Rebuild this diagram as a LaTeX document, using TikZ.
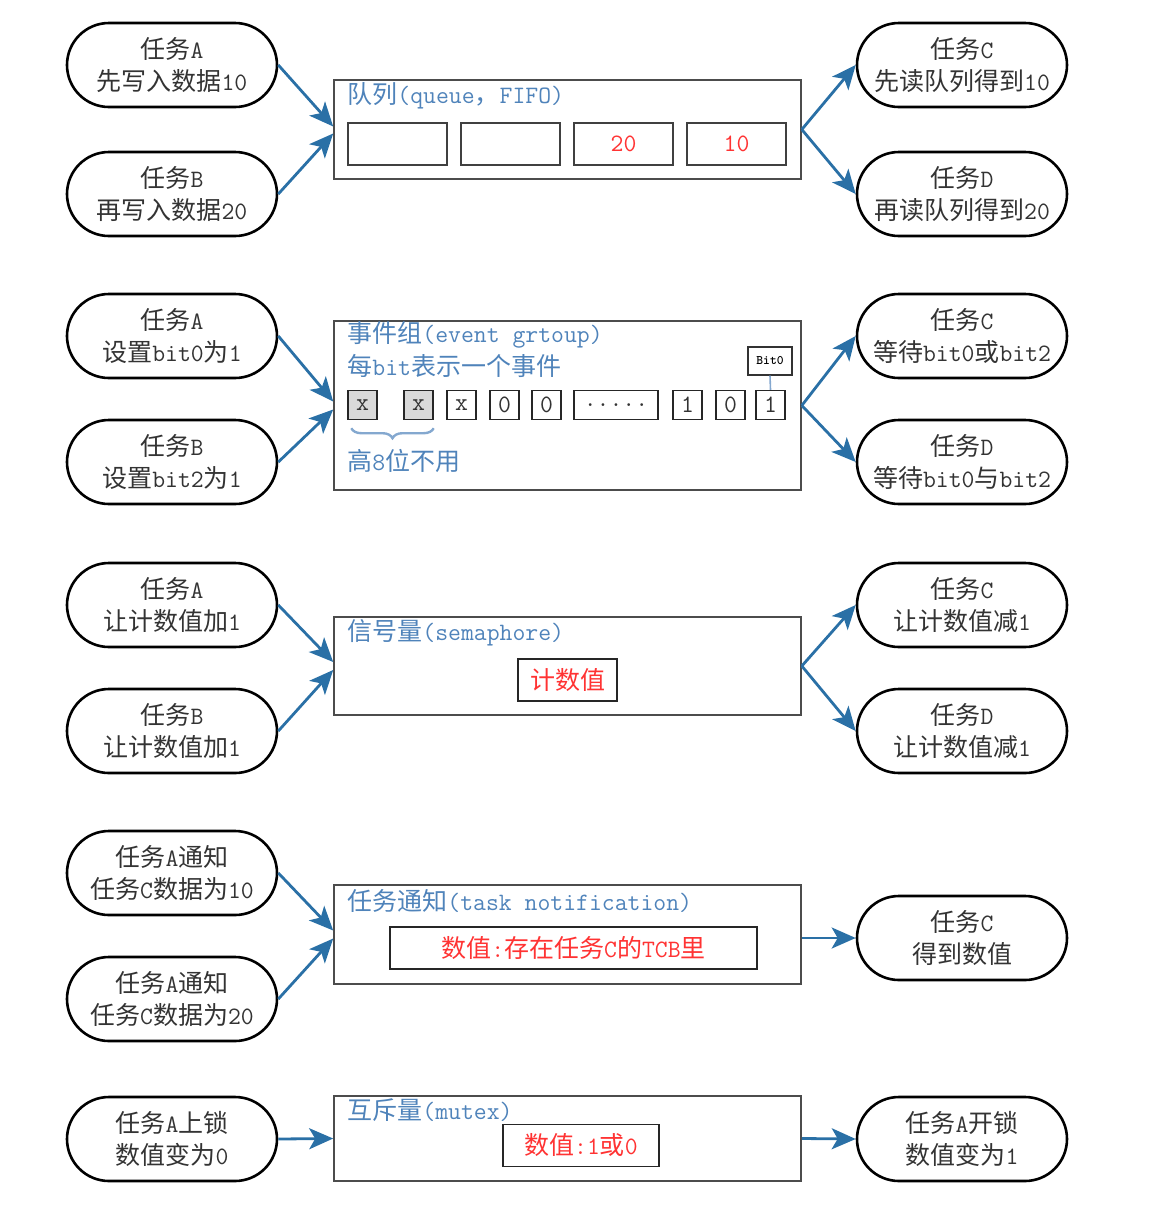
\documentclass[tikz,border=0pt]{standalone}
\usepackage{fontspec}
\newfontfamily\cjk{Noto Sans CJK SC}
\usetikzlibrary{arrows.meta,decorations.pathreplacing}

\definecolor{flowblue}{RGB}{42,112,166}
\definecolor{titleblue}{RGB}{79,131,186}
\definecolor{valred}{RGB}{255,51,51}
\newcommand\zhs[1]{{\cjk #1}}

\begin{document}
\begin{tikzpicture}[
    x=0.5pt, y=-0.5pt,
    font=\fontsize{12.5}{16}\selectfont\ttfamily,
    task/.style={rectangle, rounded corners=21pt, draw=black, line width=1.3pt, minimum width=105pt, minimum height=42pt, align=center, text=black!80, inner sep=1pt},
    ipcbox/.style={rectangle, draw=black!70, line width=0.8pt, minimum width=233.5pt, inner sep=0pt},
    title/.style={anchor=west, text=titleblue, inner sep=0pt},
    cell/.style={rectangle, draw=black!75, line width=0.7pt, minimum width=49.5pt, minimum height=21pt, text=valred},
    bitcell/.style={rectangle, draw=black!85, line width=0.7pt, minimum width=14.5pt, minimum height=14.5pt, inner sep=0pt, text=black!80},
    unused/.style={bitcell, fill=black!15},
    valbox/.style={rectangle, draw=black!85, line width=0.7pt, minimum height=21pt, text=valred},
    flow/.style={draw=flowblue, line width=1.4pt, -{Stealth[length=12pt,width=10.5pt,inset=3pt]}}
]
\useasboundingbox (0,0) rectangle (1164,1217);

% 队列
\node[task] (qA) at (172,65) {\zhs{任务}A\\\zhs{先写入数据}10};
\node[task] (qB) at (172,194) {\zhs{任务}B\\\zhs{再写入数据}20};
\node[task] (qC) at (962,65) {\zhs{任务}C\\\zhs{先读队列得到}10};
\node[task] (qD) at (962,194) {\zhs{任务}D\\\zhs{再读队列得到}20};
\node[ipcbox, minimum height=49.5pt] (qBox) at (567.5,129.5) {};
\node[title] (qTitle) at (347,96) {\zhs{队列}(queue\zhs{，}FIFO)};
\foreach \i/\x/\v in {1/397.5/{}, 2/510.5/{}, 3/623.5/20, 4/736.5/10}
    \node[cell] (q\i) at (\x,144) {\v};
\draw[flow] (qA.east) -- ([yshift=1.5pt]qBox.west);
\draw[flow] (qB.east) -- ([yshift=-2pt]qBox.west);
\draw[flow] (qBox.east) -- (qC.west);
\draw[flow] (qBox.east) -- (qD.west);

% 事件组
\node[task] (eA) at (172,336) {\zhs{任务}A\\\zhs{设置}bit0\zhs{为}1};
\node[task] (eB) at (172,462) {\zhs{任务}B\\\zhs{设置}bit2\zhs{为}1};
\node[task] (eC) at (962,336) {\zhs{任务}C\\\zhs{等待}bit0\zhs{或}bit2};
\node[task] (eD) at (962,462) {\zhs{任务}D\\\zhs{等待}bit0\zhs{与}bit2};
\node[ipcbox, minimum height=84.5pt] (eBox) at (567.5,405.5) {};
\node[title] (eTitle) at (347,335) {\zhs{事件组}(event grtoup)};
\node[title] (eSub) at (347,366) {\zhs{每}bit\zhs{表示一个事件}};
\node[unused] (e1) at (362.5,405) {x};
\node[unused] (e2) at (418.5,405) {x};
\foreach \i/\x/\v in {3/461.5/x, 4/504.5/0, 5/546.5/0, 7/687.5/1, 8/730.5/0, 9/770.5/1}
    \node[bitcell] (e\i) at (\x,405) {\v};
\node[bitcell, minimum width=42pt] (e6) at (616,405) {.....};
\node[rectangle, draw=black!80, line width=0.6pt, minimum width=22pt, minimum height=14pt, inner sep=0pt, font=\fontsize{6.5}{7}\selectfont\ttfamily\bfseries] (bit0) at (770,361) {Bit0};
\draw[titleblue!70, line width=0.8pt] (bit0.south) -- (e9.north);
\draw[titleblue!70, line width=1.2pt, decorate, decoration={brace, mirror, amplitude=5pt}]
    ([xshift=2pt,yshift=-4pt]e1.south west) -- ([xshift=0pt,yshift=-4pt]e2.south east);
\node[title] (eNote) at (347,461) {\zhs{高}8\zhs{位不用}};
\draw[flow] (eA.east) -- ([yshift=2pt]eBox.west);
\draw[flow] (eB.east) -- ([yshift=-2pt]eBox.west);
\draw[flow] (eBox.east) -- (eC.west);
\draw[flow] (eBox.east) -- (eD.west);

% 信号量
\node[task] (sA) at (172,605) {\zhs{任务}A\\\zhs{让计数值加}1};
\node[task] (sB) at (172,731) {\zhs{任务}B\\\zhs{让计数值加}1};
\node[task] (sC) at (962,605) {\zhs{任务}C\\\zhs{让计数值减}1};
\node[task] (sD) at (962,731) {\zhs{任务}D\\\zhs{让计数值减}1};
\node[ipcbox, minimum height=49pt] (sBox) at (567.5,666) {};
\node[title] (sTitle) at (347,633) {\zhs{信号量}(semaphore)};
\node[valbox, minimum width=49.5pt] (sVal) at (567.5,680) {\zhs{计数值}};
\draw[flow] (sA.east) -- ([yshift=2pt]sBox.west);
\draw[flow] (sB.east) -- ([yshift=-2pt]sBox.west);
\draw[flow] (sBox.east) -- (sC.west);
\draw[flow] (sBox.east) -- (sD.west);

% 任务通知
\node[task] (nA) at (172,873) {\zhs{任务}A\zhs{通知}\\\zhs{任务}C\zhs{数据为}10};
\node[task] (nB) at (172,999) {\zhs{任务}A\zhs{通知}\\\zhs{任务}C\zhs{数据为}20};
\node[task] (nC) at (962,938) {\zhs{任务}C\\\zhs{得到数值}};
\node[ipcbox, minimum height=49.5pt] (nBox) at (567.5,934.5) {};
\node[title] (nTitle) at (347,901) {\zhs{任务通知}(task notification)};
\node[valbox, minimum width=183.5pt] (nVal) at (573.5,948) {\zhs{数值}:\zhs{存在任务}C\zhs{的}TCB\zhs{里}};
\draw[flow] (nA.east) -- ([yshift=2pt]nBox.west);
\draw[flow] (nB.east) -- ([yshift=-2pt]nBox.west);
\draw[flow] (nBox.east |- nC.west) -- (nC.west);

% 互斥量
\node[task] (mA) at (172,1139) {\zhs{任务}A\zhs{上锁}\\\zhs{数值变为}0};
\node[task] (mC) at (962,1139) {\zhs{任务}A\zhs{开锁}\\\zhs{数值变为}1};
\node[ipcbox, minimum height=42.5pt] (mBox) at (567.5,1138.5) {};
\node[title] (mTitle) at (347,1110) {\zhs{互斥量}(mutex)};
\node[valbox, minimum width=78pt] (mVal) at (581,1145.5) {\zhs{数值}:1\zhs{或}0};
\draw[flow] (mA.east) -- (mBox.west);
\draw[flow] (mBox.east) -- (mC.west);

\end{tikzpicture}
\end{document}
